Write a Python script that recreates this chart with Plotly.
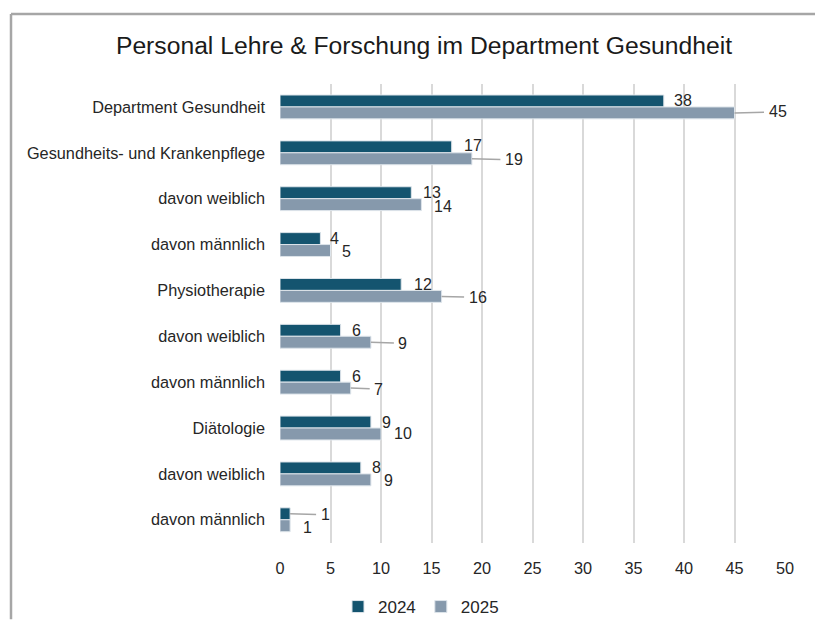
import plotly.graph_objects as go

# data
categories = ["Department Gesundheit", "Gesundheits- und Krankenpflege", "davon weiblich",
              "davon männlich", "Physiotherapie", "davon weiblich", "davon männlich",
              "Diätologie", "davon weiblich", "davon männlich"]
values_2024 = [38, 17, 13, 4, 12, 6, 6, 9, 8, 1]
values_2025 = [45, 19, 14, 5, 16, 9, 7, 10, 9, 1]
x_ticks = [0, 5, 10, 15, 20, 25, 30, 35, 40, 45, 50]

C24 = "#14546f"
C25 = "#8699ac"
FONT = "Liberation Sans, Arial, sans-serif"
TXT = "#262626"

pos = list(range(len(categories)))

fig = go.Figure()
fig.add_trace(go.Bar(y=pos, x=values_2024, name="2024", orientation="h",
                     marker=dict(color=C24, line=dict(color="#dde4ea", width=1))))
fig.add_trace(go.Bar(y=pos, x=values_2025, name="2025", orientation="h",
                     marker=dict(color=C25, line=dict(color="#dde4ea", width=1))))

# label placement: (leader line?, xshift or ax, yshift or ay)
lab24 = [(False, 10, 0), (False, 12, 1), (False, 12, 0), (False, 10, 0), (False, 13, 0),
         (False, 11, 0), (False, 11, 0), (False, 11, 0), (False, 11, 0), (True, 35, 1)]
lab25 = [(True, 43, -1), (True, 42, 1), (False, 13, -2), (False, 11, -1), (True, 36, 1),
         (True, 32, 1), (True, 28, 1), (False, 13, 0), (False, 13, -1), (False, 13, -2)]

half = 0.13
for series, labs, off in [(values_2024, lab24, -half), (values_2025, lab25, half)]:
    for i, (v, (lead, dx, dy)) in enumerate(zip(series, labs)):
        if lead:
            fig.add_annotation(x=v, y=i + off, xref="x", yref="y", text=str(v),
                               showarrow=True, arrowhead=0, arrowwidth=1.5,
                               arrowcolor="#a6a6a6", ax=dx, ay=dy, borderpad=4,
                               font=dict(family=FONT, size=16, color=TXT))
        else:
            fig.add_annotation(x=v, y=i + off, xref="x", yref="y", text=str(v),
                               showarrow=False, xanchor="left", xshift=dx - 2, yshift=dy,
                               font=dict(family=FONT, size=16, color=TXT))

# page body has an 8px margin: lay out 8px up/left; figure runs to the window's right edge
W, H = 815, 615
ML, MR, MT, MB = 272, 38, 76, 77
pw, ph = W - ML - MR, H - MT - MB

# chart border: only left and top edges visible; keep them inside the figure
bx = (3 - ML) / pw
by = (H - MB - 5.5) / ph
border = dict(color="#a6a6a6", width=2.5)
fig.add_shape(type="line", xref="paper", yref="paper", x0=bx, x1=bx, y0=-MB / ph, y1=by,
              line=border, layer="below")
fig.add_shape(type="line", xref="paper", yref="paper", x0=bx, x1=(W - ML) / pw, y0=by, y1=by,
              line=border, layer="below")

fig.update_layout(
    width=W, height=H,
    margin=dict(l=ML, r=MR, t=MT, b=MB),
    paper_bgcolor="white", plot_bgcolor="white",
    barmode="group", bargap=0.48, bargroupgap=0,
    font=dict(family=FONT, size=16, color=TXT),
    title=dict(text="Personal Lehre & Forschung im Department Gesundheit",
               x=416 / W, xref="container", xanchor="center",
               y=1 - 37 / H, yref="container", yanchor="middle",
               font=dict(family=FONT, size=24.7, color="#1a1a1a")),
    legend=dict(orientation="h", x=413 / W, xref="container", xanchor="center",
                y=1 - 599 / H, yref="container", yanchor="middle",
                font=dict(family=FONT, size=17, color=TXT), itemwidth=30,
                traceorder="normal"),
    showlegend=True,
)
fig.update_xaxes(range=[0, 50], tickvals=x_ticks, showgrid=True, gridcolor="#d9d9d9",
                 gridwidth=2, zeroline=False, showline=False, ticks="",
                 ticklabelstandoff=14, tickfont=dict(size=16.3, color=TXT), fixedrange=True)
fig.update_yaxes(tickvals=pos, ticktext=categories, range=[9.5, -0.5],
                 showgrid=False, zeroline=False, showline=False, ticks="",
                 ticklabelstandoff=14, tickfont=dict(size=16.3, color=TXT), fixedrange=True)

fig.write_html("out.html")
